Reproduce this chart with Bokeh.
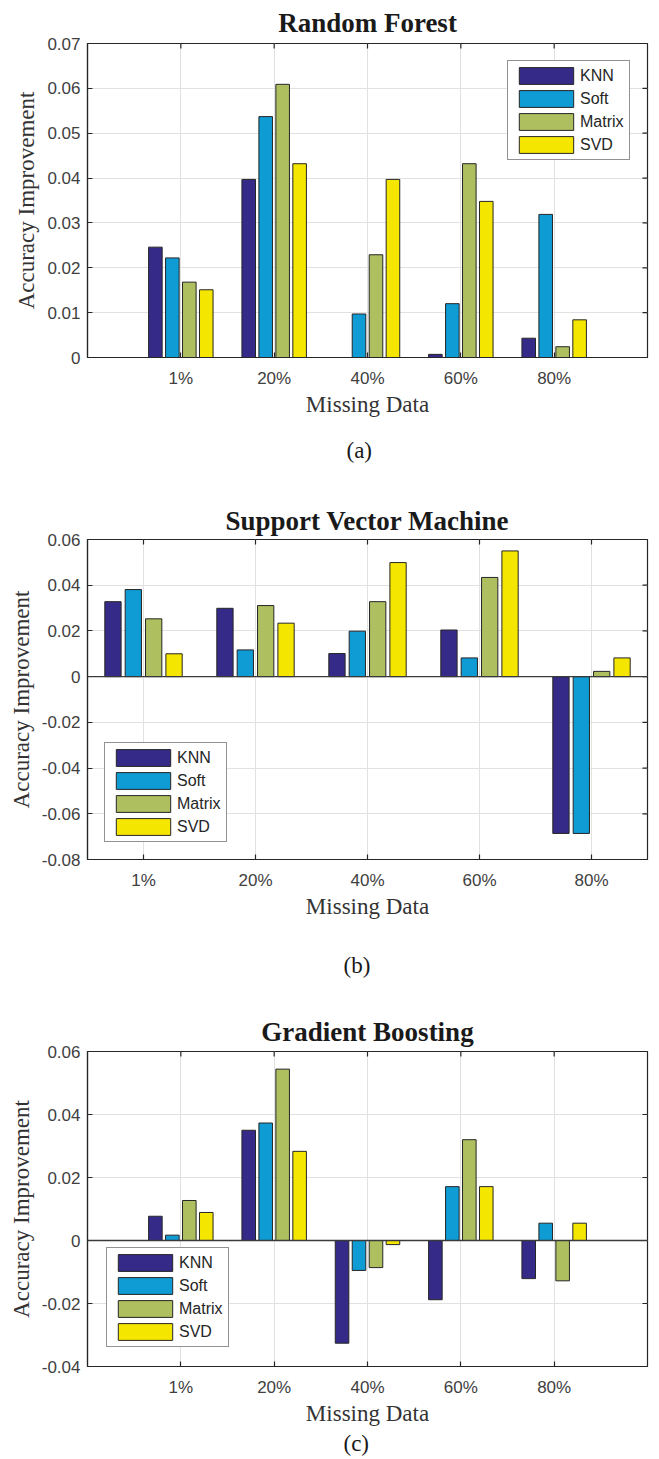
import math
from bokeh.plotting import figure
from bokeh.models import (ColumnDataSource, FixedTicker, NumeralTickFormatter,
                          Span, Range1d, Title)
from bokeh.transform import dodge
from bokeh.layouts import column
from bokeh.embed import file_html
from bokeh.resources import INLINE

# ---------------- data ----------------
categories = ["1%", "20%", "40%", "60%", "80%"]
methods = ["KNN", "Soft", "Matrix", "SVD"]

rf_knn = [0.0246, 0.0397, 0.0, 0.0007, 0.0043]
rf_soft = [0.0222, 0.0537, 0.0097, 0.0120, 0.0319]
rf_matrix = [0.0168, 0.0609, 0.0229, 0.0432, 0.0024]
rf_svd = [0.0151, 0.0432, 0.0397, 0.0348, 0.0084]

svm_knn = [0.0328, 0.0299, 0.0101, 0.0204, -0.0686]
svm_soft = [0.0381, 0.0117, 0.0199, 0.0082, -0.0686]
svm_matrix = [0.0253, 0.0311, 0.0328, 0.0434, 0.0023]
svm_svd = [0.0100, 0.0234, 0.0499, 0.0550, 0.0082]

gb_knn = [0.0077, 0.0350, -0.0326, -0.0188, -0.0121]
gb_soft = [0.0017, 0.0373, -0.0095, 0.0171, 0.0055]
gb_matrix = [0.0127, 0.0544, -0.0086, 0.0320, -0.0128]
gb_svd = [0.0089, 0.0283, -0.0013, 0.0171, 0.0055]

rf_yticks = [0, 0.01, 0.02, 0.03, 0.04, 0.05, 0.06, 0.07]
svm_yticks = [-0.08, -0.06, -0.04, -0.02, 0, 0.02, 0.04, 0.06]
gb_yticks = [-0.04, -0.02, 0, 0.02, 0.04, 0.06]

# ---------------- style ----------------
COLORS = ["#352a87", "#0f9bd3", "#adbf5f", "#f5e600"]
OFFSETS = [-0.2727, -0.0909, 0.0909, 0.2727]
BAR_W = 0.1455
DARK = "#262626"
TICK_FONT = "Liberation Sans"
SERIF = "Liberation Serif"


def make_panel(title, series, yticks, xr, yr, height, borders, title_standoff,
               legend_loc, legend_margin, letter, letter_offset, letter_standoff,
               zero_line):
    left, right, top, bottom = borders
    p = figure(width=659, height=height, x_range=Range1d(*xr), y_range=Range1d(*yr),
               output_backend="svg", toolbar_location=None,
               min_border_left=left, min_border_right=right,
               min_border_top=top, min_border_bottom=bottom)
    p.outline_line_color = DARK
    p.outline_line_width = 1.2

    xs = list(range(1, len(categories) + 1))
    data = {"x": xs}
    for m, vals in zip(methods, series):
        data[m] = vals
    src = ColumnDataSource(data)

    p.xgrid.grid_line_color = "#e1e1e1"
    p.ygrid.grid_line_color = "#e1e1e1"

    for m, off, c in zip(methods, OFFSETS, COLORS):
        p.vbar(x=dodge("x", off, range=p.x_range), top=m, bottom=0, width=BAR_W,
               source=src, fill_color=c, line_color=DARK, line_width=1,
               legend_label=m)

    if zero_line:
        p.add_layout(Span(location=0, dimension="width", line_color="#3a3a3a",
                          line_width=1.3))

    # inward tick marks on the right and top frame edges (box on)
    p.scatter(x=[xr[1]] * len(yticks), y=yticks, marker="dash", size=10,
              line_color=DARK, line_width=1.2)
    p.scatter(x=xs, y=[yr[1]] * len(xs), marker="dash", angle=math.pi / 2, size=10,
              line_color=DARK, line_width=1.2)

    bx = p.xaxis[0]
    ly = p.yaxis[0]
    bx.ticker = FixedTicker(ticks=xs)
    bx.major_label_overrides = {x: c for x, c in zip(xs, categories)}
    ly.ticker = FixedTicker(ticks=yticks)
    ly.formatter = NumeralTickFormatter(format="0.[00]")
    for ax in (bx, ly):
        ax.axis_line_color = DARK
        ax.axis_line_width = 1.2
        ax.major_tick_line_color = DARK
        ax.major_tick_line_width = 1.2
        ax.major_tick_in = 5
        ax.major_tick_out = 0
        ax.minor_tick_line_color = None
        ax.major_label_text_font = TICK_FONT
        ax.major_label_text_font_size = "17px"
        ax.major_label_text_color = "#404040"
        ax.axis_label_text_font = SERIF
        ax.axis_label_text_font_style = "normal"
        ax.axis_label_text_font_size = "23px"
        ax.axis_label_text_color = "#333333"

    bx.axis_label = "Missing Data"
    bx.major_label_standoff = 11
    bx.axis_label_standoff = 1
    ly.axis_label = "Accuracy Improvement"
    ly.major_label_standoff = 7
    ly.axis_label_standoff = 5

    p.title.text = title
    p.title.align = "center"
    p.title.text_font = SERIF
    p.title.text_font_style = "bold"
    p.title.text_font_size = "27px"
    p.title.text_color = "#1a1a1a"
    p.title.standoff = title_standoff

    lg = p.legend[0]
    lg.location = legend_loc
    lg.margin = legend_margin
    lg.glyph_width = 68
    lg.glyph_height = 21
    lg.label_height = 21
    lg.label_width = 45
    lg.spacing = 2
    lg.padding = 4
    lg.label_standoff = 0
    lg.label_text_font = TICK_FONT
    lg.label_text_font_size = "16px"
    lg.label_text_color = DARK
    lg.border_line_color = DARK
    lg.border_line_width = 1
    lg.background_fill_color = "white"
    lg.background_fill_alpha = 1

    p.add_layout(Title(text=letter, align="left", offset=letter_offset,
                       standoff=letter_standoff, text_font=SERIF,
                       text_font_style="normal", text_font_size="23px",
                       text_color="#1a1a1a"), "below")
    return p


# page y: frame a 39..357, b 539..859, c 1051..1366
p1 = make_panel("Random Forest", [rf_knn, rf_soft, rf_matrix, rf_svd], rf_yticks,
                (0, 6), (0, 0.07), 482, (84, 12, 39, 125), 11, "top_right", 17,
                "(a)", 259, 33, False)
p2 = make_panel("Support Vector Machine", [svm_knn, svm_soft, svm_matrix, svm_svd], svm_yticks,
                (0.5, 5.5), (-0.08, 0.06), 525, (87, 10, 57, 148), 7, "bottom_left", 17,
                "(b)", 256, 58, True)
p3 = make_panel("Gradient Boosting", [gb_knn, gb_soft, gb_matrix, gb_svd], gb_yticks,
                (0, 6), (-0.04, 0.06), 450, (87, 9, 44, 91), 10, "bottom_left", 19,
                "(c)", 256, 0, True)

layout = column(p1, p2, p3, spacing=0)
open("out.html", "w").write(file_html(layout, INLINE))
